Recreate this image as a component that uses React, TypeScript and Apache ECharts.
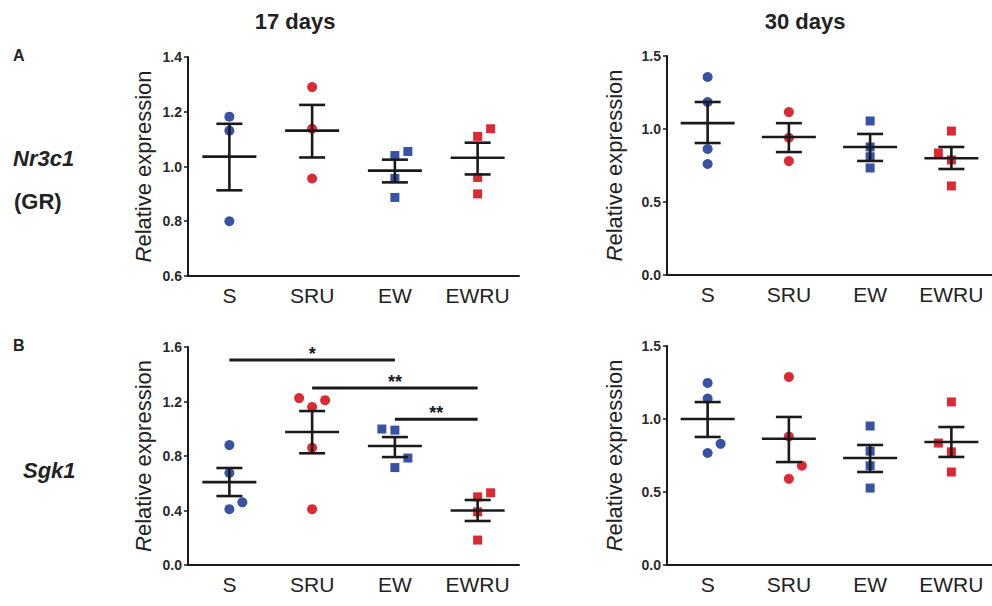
import React, { useEffect, useRef } from "react";
import * as echarts from "echarts";

// ---------- data ----------
const categories = ["S", "SRU", "EW", "EWRU"];
const panelTitles = ["17 days", "30 days"];
const rowLetters = ["A", "B"];

// Panel A, 17 days (Nr3c1)
const a17_S = [1.182, 1.131, 0.8];
const a17_SRU = [1.29, 1.138, 0.956];
const a17_EW = [1.04, 1.055, 0.956, 0.887];
const a17_EWRU = [1.11, 1.138, 0.96, 0.9];
const a17_mean = [1.036, 1.131, 0.985, 1.032];
const a17_lo = [0.913, 1.033, 0.942, 0.971];
const a17_hi = [1.156, 1.225, 1.025, 1.087];

// Panel A, 30 days
const a30_S = [1.356, 1.185, 0.863, 0.76];
const a30_SRU = [1.116, 0.94, 0.78];
const a30_EW = [1.055, 0.877, 0.81, 0.733];
const a30_EWRU = [0.986, 0.836, 0.788, 0.61];
const a30_mean = [1.04, 0.945, 0.877, 0.8];
const a30_lo = [0.904, 0.842, 0.781, 0.726];
const a30_hi = [1.185, 1.04, 0.966, 0.877];

// Panel B, 17 days (Sgk1)
const b17_S = [0.88, 0.675, 0.46, 0.41];
const b17_SRU = [1.225, 1.21, 1.16, 0.86, 0.41];
const b17_EW = [0.998, 0.99, 0.785, 0.715];
const b17_EWRU = [0.5, 0.53, 0.39, 0.183];
const b17_mean = [0.608, 0.976, 0.873, 0.4];
const b17_lo = [0.506, 0.82, 0.792, 0.323];
const b17_hi = [0.712, 1.13, 0.939, 0.477];
const b17_sigFrom = [0, 1, 2];
const b17_sigTo = [2, 3, 3];
const b17_sigY = [1.505, 1.3, 1.07];
const b17_sigText = ["*", "**", "**"];

// Panel B, 30 days
const b30_S = [1.247, 1.14, 0.83, 0.767];
const b30_SRU = [1.288, 0.88, 0.68, 0.59];
const b30_EW = [0.952, 0.78, 0.68, 0.527];
const b30_EWRU = [1.117, 0.835, 0.775, 0.637];
const b30_mean = [1.0, 0.865, 0.733, 0.842];
const b30_lo = [0.877, 0.705, 0.637, 0.74];
const b30_hi = [1.116, 1.014, 0.822, 0.945];

// ---------- layout / style (not data) ----------
const JIT = 13;
const jitter: Record<string, number[][]> = {
  a17: [[0, 0, 0], [0, 0, 0], [0, 1, 0, 0], [0, 1, 0, 0]],
  a30: [[0, 0, 0, 0], [0, 0, 0], [0, 0, 0, 0], [0, -1, 0, 0]],
  b17: [[0, 0, 1, 0], [-1, 1, 0, 0, 0], [-1, 0, 1, 0], [0, 1, 0, 0]],
  b30: [[0, 0, 1, 0], [0, 0, 1, 0], [0, 0, 0, 0], [0, -1, 0, 0]],
};
const BLUE = "#3852a4";
const RED = "#dc2a35";
const INK = "#1a1a1a";
const FONT = "Liberation Sans, Arial, sans-serif";
const groupColor = [BLUE, RED, BLUE, RED];
const groupSymbol = ["circle", "circle", "rect", "rect"];
const groupSize = [10, 10, 9, 9];

const panels = [
  { key: "a17", groups: [a17_S, a17_SRU, a17_EW, a17_EWRU], mean: a17_mean, lo: a17_lo, hi: a17_hi,
    grid: { left: 188, top: 57, width: 331, height: 219 }, min: 0.6, max: 1.4, interval: 0.2, nameGap: 34 },
  { key: "a30", groups: [a30_S, a30_SRU, a30_EW, a30_EWRU], mean: a30_mean, lo: a30_lo, hi: a30_hi,
    grid: { left: 667, top: 56, width: 333, height: 219 }, min: 0, max: 1.5, interval: 0.5, nameGap: 42 },
  { key: "b17", groups: [b17_S, b17_SRU, b17_EW, b17_EWRU], mean: b17_mean, lo: b17_lo, hi: b17_hi,
    grid: { left: 188, top: 347, width: 331, height: 218 }, min: 0, max: 1.6, interval: 0.4, nameGap: 34 },
  { key: "b30", groups: [b30_S, b30_SRU, b30_EW, b30_EWRU], mean: b30_mean, lo: b30_lo, hi: b30_hi,
    grid: { left: 667, top: 346, width: 333, height: 219 }, min: 0, max: 1.5, interval: 0.5, nameGap: 42 },
];

function buildOption() {
  const grid: any[] = [];
  const xAxis: any[] = [];
  const yAxis: any[] = [];
  const series: any[] = [];

  panels.forEach((p, pi) => {
    grid.push({ ...p.grid, containLabel: false });
    xAxis.push({
      type: "category",
      gridIndex: pi,
      data: categories,
      boundaryGap: true,
      axisLine: { lineStyle: { color: INK, width: 2 } },
      axisTick: { alignWithLabel: true, interval: 0, length: 5, lineStyle: { color: INK, width: 1.5 } },
      axisLabel: { color: "#222", fontSize: 21, fontFamily: FONT, margin: 9, interval: 0, hideOverlap: false },
      splitLine: { show: false },
    });
    yAxis.push({
      type: "value",
      gridIndex: pi,
      min: p.min,
      max: p.max,
      interval: p.interval,
      name: "{i|R}{n|elative expression}",
      nameLocation: "middle",
      nameRotate: 90,
      nameGap: p.nameGap,
      nameTextStyle: {
        rich: {
          i: { fontSize: 22, fontStyle: "italic", fontFamily: FONT, color: "#222" },
          n: { fontSize: 22, fontFamily: FONT, color: "#222" },
        },
      },
      axisLine: { show: true, lineStyle: { color: INK, width: 2 } },
      axisTick: { show: true, length: 4, lineStyle: { color: INK, width: 1.5 } },
      axisLabel: {
        color: "#2a2a2a", fontSize: 14, fontWeight: "bold", fontFamily: FONT, margin: 6,
        formatter: (v: number) => v.toFixed(1),
      },
      splitLine: { show: false },
    });

    p.groups.forEach((vals, gi) => {
      series.push({
        type: "scatter",
        xAxisIndex: pi,
        yAxisIndex: pi,
        symbol: groupSymbol[gi],
        symbolSize: groupSize[gi],
        itemStyle: { color: groupColor[gi], opacity: 1 },
        z: 2,
        data: vals.map((v, i) => ({
          value: [gi, v],
          symbolOffset: [(jitter[p.key][gi][i] || 0) * JIT, 0],
        })),
      });
    });

    series.push({
      type: "custom",
      xAxisIndex: pi,
      yAxisIndex: pi,
      z: 5,
      encode: { x: 0, y: [1, 2, 3] },
      data: categories.map((_, ci) => [ci, p.mean[ci], p.lo[ci], p.hi[ci]]),
      renderItem: (params: any, api: any) => {
        const idx = api.value(0);
        const m = api.coord([idx, api.value(1)]);
        const lo = api.coord([idx, api.value(2)]);
        const hi = api.coord([idx, api.value(3)]);
        const st = { stroke: INK, lineWidth: 2.6 };
        return {
          type: "group",
          children: [
            { type: "line", shape: { x1: m[0] - 27, y1: m[1], x2: m[0] + 27, y2: m[1] }, style: st },
            { type: "line", shape: { x1: lo[0], y1: lo[1], x2: hi[0], y2: hi[1] }, style: st },
            { type: "line", shape: { x1: lo[0] - 13, y1: lo[1], x2: lo[0] + 13, y2: lo[1] }, style: st },
            { type: "line", shape: { x1: hi[0] - 13, y1: hi[1], x2: hi[0] + 13, y2: hi[1] }, style: st },
          ],
        };
      },
    });
  });

  // significance bars on panel B, 17 days
  series.push({
    type: "custom",
    xAxisIndex: 2,
    yAxisIndex: 2,
    z: 6,
    data: b17_sigY.map((y, i) => [b17_sigFrom[i], b17_sigTo[i], y]),
    renderItem: (params: any, api: any) => {
      const a = api.coord([api.value(0), api.value(2)]);
      const b = api.coord([api.value(1), api.value(2)]);
      return {
        type: "group",
        children: [
          { type: "line", shape: { x1: a[0], y1: a[1], x2: b[0], y2: b[1] }, style: { stroke: INK, lineWidth: 3 } },
          {
            type: "text",
            x: (a[0] + b[0]) / 2,
            y: a[1] - 6,
            style: {
              text: b17_sigText[params.dataIndex],
              fontSize: 18, fontWeight: "bold", fontFamily: FONT, fill: INK,
              align: "center", verticalAlign: "middle",
            },
          },
        ],
      };
    },
  });

  const graphic: any[] = [
    { type: "text", x: 295, y: 21, style: { text: panelTitles[0], font: `bold 22px ${FONT}`, fill: "#222", align: "center", verticalAlign: "middle" } },
    { type: "text", x: 805, y: 21, style: { text: panelTitles[1], font: `bold 22px ${FONT}`, fill: "#222", align: "center", verticalAlign: "middle" } },
    { type: "text", x: 13, y: 55, style: { text: rowLetters[0], font: `bold 16px ${FONT}`, fill: "#222", align: "left", verticalAlign: "middle" } },
    { type: "text", x: 13, y: 345, style: { text: rowLetters[1], font: `bold 16px ${FONT}`, fill: "#222", align: "left", verticalAlign: "middle" } },
    { type: "text", x: 13, y: 158, style: { text: "Nr3c1", font: `italic bold 22px ${FONT}`, fill: "#222", align: "left", verticalAlign: "middle" } },
    { type: "text", x: 14, y: 201, style: { text: "(GR)", font: `bold 22px ${FONT}`, fill: "#222", align: "left", verticalAlign: "middle" } },
    { type: "text", x: 23, y: 470, style: { text: "Sgk1", font: `italic bold 22px ${FONT}`, fill: "#222", align: "left", verticalAlign: "middle" } },
  ];

  return {
    animation: false,
    backgroundColor: "#ffffff",
    textStyle: { fontFamily: FONT },
    grid,
    xAxis,
    yAxis,
    series,
    graphic,
  };
}

export default function App() {
  const ref = useRef<HTMLDivElement>(null);
  useEffect(() => {
    document.body.style.margin = "0";
    if (!ref.current) return;
    const chart = echarts.init(ref.current, undefined, { renderer: "svg" });
    chart.setOption(buildOption() as any);
    return () => chart.dispose();
  }, []);
  return <div ref={ref} style={{ width: 992, height: 606, overflow: "hidden" }} />;
}
